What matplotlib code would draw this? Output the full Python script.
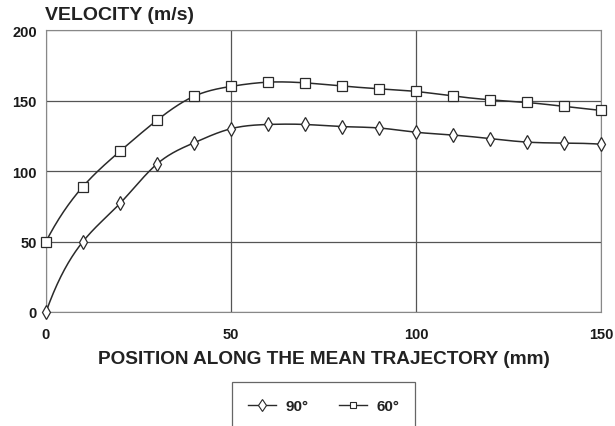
import numpy as np
import matplotlib
matplotlib.use("Agg")
import matplotlib.pyplot as plt
from matplotlib.patches import Rectangle

plt.rcParams['font.family'] = ['Liberation Sans', 'DejaVu Sans']

# Position along the mean trajectory (mm)
position = [0, 10, 20, 30, 40, 50, 60, 70, 80, 90, 100, 110, 120, 130, 140, 150]
# Velocity (m/s) for the two injection angles
vel_90 = [0, 50, 77, 105, 120, 130, 133, 133, 131.5, 130.5, 127.5, 125.5, 123, 120.5, 119.8, 119]
vel_60 = [50, 89, 114, 136, 153, 160, 163, 162.5, 160.3, 158.3, 156.4, 153.2, 150.5, 148.6, 145.8, 143]
series_labels = ["90°", "60°"]
x_ticks = [0, 50, 100, 150]
y_ticks = [0, 50, 100, 150, 200]


def spline_curve(x, y, xs):
    """Cubic spline through (x, y) with not-a-knot ends, evaluated at xs."""
    x = np.asarray(x, float)
    y = np.asarray(y, float)
    n = len(x)
    h = np.diff(x)
    A = np.zeros((n, n))
    b = np.zeros(n)
    # not-a-knot: third derivative continuous at the second and next-to-last knots
    A[0, 0], A[0, 1], A[0, 2] = h[1], -(h[0] + h[1]), h[0]
    A[-1, -3], A[-1, -2], A[-1, -1] = h[-1], -(h[-2] + h[-1]), h[-2]
    for i in range(1, n - 1):
        A[i, i - 1] = h[i - 1]
        A[i, i] = 2 * (h[i - 1] + h[i])
        A[i, i + 1] = h[i]
        b[i] = 6 * ((y[i + 1] - y[i]) / h[i] - (y[i] - y[i - 1]) / h[i - 1])
    M = np.linalg.solve(A, b)
    idx = np.clip(np.searchsorted(x, xs) - 1, 0, n - 2)
    x0, x1 = x[idx], x[idx + 1]
    hh = x1 - x0
    t0 = x1 - xs
    t1 = xs - x0
    return (M[idx] * t0 ** 3 / (6 * hh) + M[idx + 1] * t1 ** 3 / (6 * hh)
            + (y[idx] / hh - M[idx] * hh / 6) * t0
            + (y[idx + 1] / hh - M[idx + 1] * hh / 6) * t1)


fig = plt.figure(figsize=(6.15, 4.27), dpi=100)
ax = fig.add_axes([46 / 615, 1 - 313 / 427, 555 / 615, 282 / 427])

line_col = "#2a2a2a"
xs = np.linspace(position[0], position[-1], 600)

for vals, marker, ms in [(vel_90, "d", 7.5), (vel_60, "s", 6.5)]:
    ax.plot(xs, spline_curve(position, vals, xs), color=line_col, lw=1.1,
            zorder=3)
    ax.plot(position, vals, linestyle="none", marker=marker, ms=ms,
            mfc="white", mec=line_col, mew=0.9, zorder=4, clip_on=False)

ax.set_xlim(0, 150)
ax.set_ylim(0, 200)
ax.set_xticks(x_ticks)
ax.set_yticks(y_ticks)
ax.tick_params(length=0, labelsize=10.5, colors="#1a1a1a")
ax.tick_params(axis="x", pad=11)
ax.tick_params(axis="y", pad=6.5)
for lbl in ax.get_xticklabels() + ax.get_yticklabels():
    lbl.set_fontweight("bold")
ax.grid(True, color="#555555", lw=0.9)
ax.set_axisbelow(True)
for sp in ax.spines.values():
    sp.set_color("#888888")
    sp.set_linewidth(0.8)

fig.text(45 / 615, 1 - 16 / 427, "VELOCITY (m/s)", fontsize=14, fontweight="bold",
         ha="left", va="center", color="#222222")
fig.text(324 / 615, 1 - 359 / 427, "POSITION ALONG THE MEAN TRAJECTORY (mm)",
         fontsize=13.7, fontweight="bold", ha="center", va="center", color="#222222")

# Legend box, running off the lower edge of the figure
fig.patches.append(Rectangle((232 / 615, -0.05), 183 / 615, 0.05 + (427 - 383) / 427,
                             transform=fig.transFigure, fill=False,
                             ec="#666666", lw=0.9))
handles = [plt.Line2D([], [], color=line_col, lw=1.0, marker="d", ms=6,
                      mfc="white", mec=line_col, mew=0.8),
           plt.Line2D([], [], color=line_col, lw=1.0, marker="s", ms=5,
                      mfc="white", mec=line_col, mew=0.8)]
leg = fig.legend(handles, series_labels, loc="center", ncol=2, frameon=False,
                 bbox_to_anchor=(324 / 615, 1 - 407 / 427),
                 prop={"size": 11, "weight": "bold"},
                 handlelength=1.8, columnspacing=2.0, handletextpad=0.65)
for t in leg.get_texts():
    t.set_color("#222222")

fig.savefig("out.png", dpi=100)
